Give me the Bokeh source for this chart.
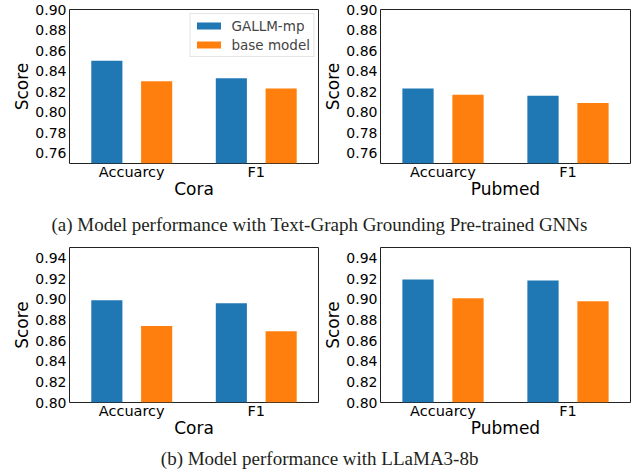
from bokeh.plotting import figure
from bokeh.layouts import column, row
from bokeh.models import ColumnDataSource, FactorRange, Range1d, FixedTicker, NumeralTickFormatter, Legend
from bokeh.transform import dodge
from bokeh.embed import file_html
from bokeh.resources import INLINE

categories = ["Accuarcy", "F1"]
series_names = ["GALLM-mp", "base model"]

# (a) Text-Graph Grounding pre-trained GNNs
cora_a_gallm = [0.850, 0.833]
cora_a_base = [0.830, 0.823]
pubmed_a_gallm = [0.823, 0.816]
pubmed_a_base = [0.817, 0.809]

# (b) LLaMA3-8b
cora_b_gallm = [0.899, 0.896]
cora_b_base = [0.874, 0.869]
pubmed_b_gallm = [0.919, 0.918]
pubmed_b_base = [0.901, 0.898]

yticks_a = [0.76, 0.78, 0.80, 0.82, 0.84, 0.86, 0.88, 0.90]
yticks_b = [0.80, 0.82, 0.84, 0.86, 0.88, 0.90, 0.92, 0.94]
ylim_a = (0.75, 0.90)
ylim_b = (0.80, 0.95)

caption_a = "(a)  Model performance with Text-Graph Grounding Pre-trained GNNs"
caption_b = "(b)  Model performance with LLaMA3-8b"

BLUE = "#1f77b4"
ORANGE = "#ff7f0e"
SANS = "DejaVu Sans"


def panel(gallm, base, xlabel, ylim, yticks, frame_w, frame_h, border_left, border_top, show_legend):
    src = ColumnDataSource(dict(cat=categories, gallm=gallm, base=base))
    p = figure(x_range=FactorRange(*categories, range_padding=0),
               y_range=Range1d(*ylim),
               frame_width=frame_w, frame_height=frame_h,
               min_border_left=border_left, min_border_right=1,
               min_border_top=border_top, min_border_bottom=38,
               toolbar_location=None, output_backend="svg",
               background_fill_color="white", border_fill_color="white")
    r1 = p.vbar(x=dodge("cat", -0.2, range=p.x_range), top="gallm", bottom=0,
                width=0.25, source=src, fill_color=BLUE, line_color=None)
    r2 = p.vbar(x=dodge("cat", 0.2, range=p.x_range), top="base", bottom=0,
                width=0.25, source=src, fill_color=ORANGE, line_color=None)
    p.grid.visible = False
    p.outline_line_color = "#222222"
    p.outline_line_width = 1

    xa = p.xaxis[0]
    xa.axis_label = xlabel
    xa.axis_label_text_font = SANS
    xa.axis_label_text_font_size = "17px"
    xa.axis_label_text_font_style = "normal"
    xa.axis_label_standoff = -4
    xa.major_label_text_font = SANS
    xa.major_label_text_font_size = "14.5px"
    xa.major_label_standoff = 0
    xa.major_tick_out = 0
    xa.major_tick_in = 0
    xa.axis_line_color = None
    xa.major_label_text_color = "black"
    xa.axis_label_text_color = "black"

    ya = p.yaxis[0]
    ya.axis_label = "Score"
    ya.axis_label_text_font = SANS
    ya.axis_label_text_font_size = "17px"
    ya.axis_label_text_font_style = "normal"
    ya.axis_label_standoff = 0
    ya.ticker = FixedTicker(ticks=yticks)
    ya.formatter = NumeralTickFormatter(format="0.00")
    ya.major_label_text_font = SANS
    ya.major_label_text_font_size = "14px"
    ya.major_label_standoff = 3
    ya.major_tick_out = 0
    ya.major_tick_in = 0
    ya.minor_tick_out = 0
    ya.minor_tick_in = 0
    ya.axis_line_color = None
    ya.major_label_text_color = "black"
    ya.axis_label_text_color = "black"

    if show_legend:
        leg = Legend(items=[(series_names[0], [r1]), (series_names[1], [r2])],
                     location="top_right", margin=4, padding=3, spacing=2,
                     glyph_width=30, glyph_height=9, label_height=17,
                     label_standoff=8, label_text_font=SANS,
                     label_text_font_size="13.5px",
                     border_line_color="#cccccc", border_line_width=1,
                     background_fill_color="white", background_fill_alpha=0.8)
        p.add_layout(leg, "center")
    return p


def caption(text, height):
    c = figure(width=643, height=height, toolbar_location=None, output_backend="svg",
               min_border=0, x_axis_location=None, y_axis_location=None,
               outline_line_color=None, background_fill_color="white",
               border_fill_color="white", title_location="below")
    c.grid.visible = False
    c.title.text = text
    c.title.align = "center"
    c.title.text_font = "Liberation Serif"
    c.title.text_font_size = "19px"
    c.title.text_font_style = "normal"
    c.title.text_color = "#231f20"
    return c


fa1 = panel(cora_a_gallm, cora_a_base, "Cora", ylim_a, yticks_a, 249, 154, 69, 9, True)
fa2 = panel(pubmed_a_gallm, pubmed_a_base, "Pubmed", ylim_a, yticks_a, 250, 154, 61, 9, False)
fb1 = panel(cora_b_gallm, cora_b_base, "Cora", ylim_b, yticks_b, 249, 155, 69, 8, False)
fb2 = panel(pubmed_b_gallm, pubmed_b_base, "Pubmed", ylim_b, yticks_b, 250, 155, 61, 8, False)

cap_a = caption(caption_a, 38)
cap_b = caption(caption_b, 32)

layout = column(row(fa1, fa2), cap_a, row(fb1, fb2), cap_b)

open("out.html", "w").write(file_html(layout, INLINE))
